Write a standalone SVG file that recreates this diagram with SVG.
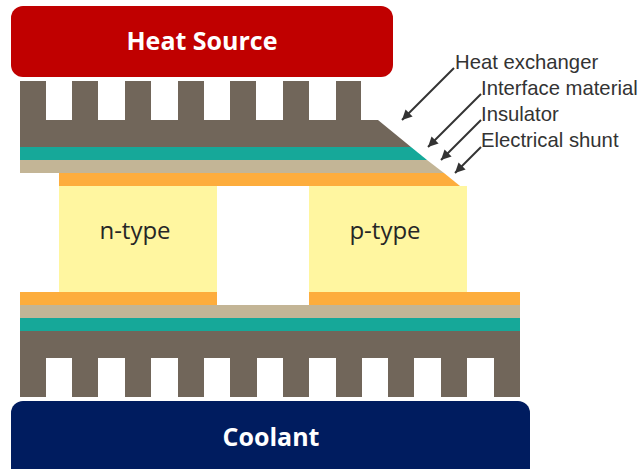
<svg xmlns="http://www.w3.org/2000/svg" width="640" height="469" viewBox="0 0 640 469">
<defs>
<marker id="arr" markerUnits="userSpaceOnUse" markerWidth="11" markerHeight="11" refX="10" refY="5" orient="auto"><path d="M0 0L10 5L0 10Z" fill="#333"/></marker>
<filter id="soft" x="-5%" y="-5%" width="110%" height="110%"><feGaussianBlur stdDeviation="0.5"/></filter>
</defs>
<style>
.brown{fill:#71665a}.teal{fill:#12a899}.tan{fill:#c3b596}.orange{fill:#fdad3c}.yellow{fill:#fff6a0}
.title{font-family:"Open Sans","Noto Sans",sans-serif;font-weight:700;font-size:25px;fill:#fff;text-anchor:middle}
.type{font-family:"Open Sans","Noto Sans",sans-serif;font-size:24px;fill:#262626;text-anchor:middle}
.lbl{font-family:"Liberation Sans",Arial,sans-serif;font-size:20.3px;fill:#333}
.arrow{stroke:#333;stroke-width:2;fill:none;marker-end:url(#arr)}
</style>
<rect width="640" height="469" fill="#fff"/>
<g id="top-stack" filter="url(#soft)">
<path class="brown" d="M20 81H46V120H72V81H98V120H125V81H151V120H178V81H204V120H230V81H256V120H283V81H309V120H336V81H361V120H378L411 147H20Z"/>
<path class="teal" d="M20 147H411L427 160H20Z"/>
<path class="tan" d="M20 160H427L444 173H20Z"/>
<path class="orange" d="M59 173H444L460 186H59Z"/>
</g>
<g id="heat-source"><rect x="11" y="6" width="382" height="71" rx="12" fill="#c00000"/><text class="title" x="202" y="50">Heat Source</text></g>
<g id="n-type"><rect class="yellow" x="59" y="186" width="158" height="106"/><text class="type" x="135" y="239">n-type</text></g>
<g id="p-type"><rect class="yellow" x="309" y="186" width="158" height="106"/><text class="type" x="385" y="239">p-type</text></g>
<g id="bottom-stack" filter="url(#soft)">
<rect class="orange" x="20" y="292" width="197" height="13"/>
<rect class="orange" x="309" y="292" width="211" height="13"/>
<rect class="tan" x="20" y="305" width="500" height="13"/>
<rect class="teal" x="20" y="318" width="500" height="13"/>
<path class="brown" d="M20 331H520V397H494V358H467V397H441V358H414V397H388V358H362V397H336V358H309V397H283V358H257V397H230V358H204V397H178V358H151V397H125V358H98V397H72V358H46V397H20Z"/>
</g>
<g id="coolant"><rect x="11" y="401" width="519" height="80" rx="12" fill="#001c5f"/><text class="title" x="271" y="446">Coolant</text></g>
<g id="connectors">
<line class="arrow" x1="454" y1="68" x2="402" y2="120"/>
<line class="arrow" x1="481" y1="94" x2="428" y2="147"/>
<line class="arrow" x1="481" y1="120" x2="441" y2="160"/>
<line class="arrow" x1="481" y1="147" x2="455" y2="173"/>
</g>
<g id="labels">
<text class="lbl" x="455" y="69">Heat exchanger</text>
<text class="lbl" x="481" y="95">Interface material</text>
<text class="lbl" x="481" y="121">Insulator</text>
<text class="lbl" x="481" y="147">Electrical shunt</text>
</g>
</svg>
